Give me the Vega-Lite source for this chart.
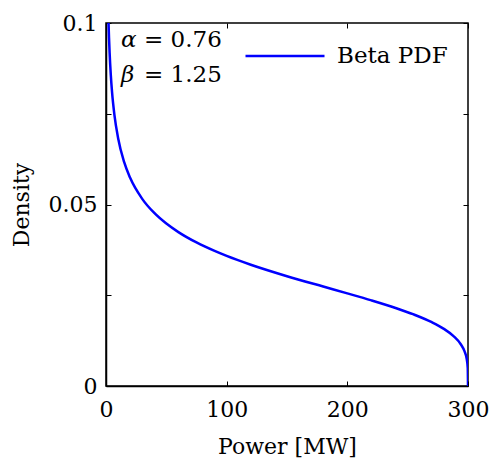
{
  "$schema": "https://vega.github.io/schema/vega-lite/v6.json",
  "autosize": {"type": "none"},
  "padding": {"left": 106, "top": 23, "right": 22, "bottom": 75},
  "width": 362,
  "height": 363,
  "background": "white",
  "config": {
    "view": {"stroke": "black", "strokeWidth": 1.5},
    "font": "DejaVu Serif",
    "text": {"font": "DejaVu Serif"},
    "axis": {
      "grid": false,
      "domainColor": "black",
      "domainWidth": 1.5,
      "tickColor": "black",
      "tickWidth": 1,
      "tickSize": -5,
      "labelFlush": false,
      "labelColor": "black",
      "titleColor": "black",
      "labelFont": "DejaVu Serif",
      "titleFont": "DejaVu Serif",
      "labelFontSize": 22,
      "titleFontSize": 22,
      "titleFontWeight": "normal"
    },
    "legend": {
      "labelFont": "DejaVu Serif",
      "labelFontSize": 23,
      "labelColor": "black"
    }
  },
  "datasets": {
    "pdf": [
      {"power": 1.5, "density": 0.10851},
      {"power": 2, "density": 0.10124},
      {"power": 2.5, "density": 0.09591},
      {"power": 3, "density": 0.09177},
      {"power": 4, "density": 0.08558},
      {"power": 5, "density": 0.08104},
      {"power": 7, "density": 0.07463},
      {"power": 10, "density": 0.06833},
      {"power": 15, "density": 0.06173},
      {"power": 20, "density": 0.05735},
      {"power": 30, "density": 0.05156},
      {"power": 40, "density": 0.04767},
      {"power": 50, "density": 0.04475},
      {"power": 60, "density": 0.0424},
      {"power": 75, "density": 0.03954},
      {"power": 90, "density": 0.0372},
      {"power": 100, "density": 0.03583},
      {"power": 120, "density": 0.03341},
      {"power": 150, "density": 0.03025},
      {"power": 180, "density": 0.02739},
      {"power": 200, "density": 0.02551},
      {"power": 220, "density": 0.02358},
      {"power": 240, "density": 0.02149},
      {"power": 255, "density": 0.01971},
      {"power": 270, "density": 0.01757},
      {"power": 280, "density": 0.01574},
      {"power": 288, "density": 0.01376},
      {"power": 294, "density": 0.01151},
      {"power": 297, "density": 0.00966},
      {"power": 299, "density": 0.00733},
      {"power": 299.8, "density": 0.0049},
      {"power": 300, "density": 0}
    ],
    "greek": [
      {"power": 12.4, "density": 0.0934, "text": "α"},
      {"power": 12.4, "density": 0.0837, "text": "β"}
    ],
    "vals": [
      {"power": 31.5, "density": 0.0934, "text": "= 0.76"},
      {"power": 31.5, "density": 0.0837, "text": "= 1.25"}
    ]
  },
  "layer": [
    {
      "data": {"name": "pdf"},
      "mark": {"type": "line", "strokeWidth": 2.5, "clip": true, "interpolate": "monotone"},
      "encoding": {
        "x": {
          "field": "power", "type": "quantitative",
          "scale": {"domain": [0, 300], "nice": false},
          "axis": {"values": [0, 100, 200, 300], "title": "Power [MW]", "labelPadding": 18, "titlePadding": 16}
        },
        "y": {
          "field": "density", "type": "quantitative",
          "scale": {"domain": [0, 0.1], "nice": false},
          "axis": {
            "values": [0, 0.025, 0.05, 0.075, 0.1],
            "labelExpr": "datum.value == 0 ? '0' : (abs(datum.value - 0.05) < 1e-9 ? '0.05' : (abs(datum.value - 0.1) < 1e-9 ? '0.1' : ''))",
            "title": "Density",
            "labelPadding": 14,
            "titlePadding": 15
          }
        },
        "color": {
          "datum": "Beta PDF",
          "type": "nominal",
          "scale": {"range": ["#0000ff"]},
          "legend": {
            "title": null,
            "orient": "none",
            "legendX": 138,
            "legendY": -8,
            "padding": 0,
            "symbolType": "stroke",
            "symbolSize": 6241,
            "symbolStrokeWidth": 2.5,
            "labelOffset": 11
          }
        }
      }
    },
    {
      "data": {"name": "pdf"},
      "mark": {"type": "line", "strokeOpacity": 0},
      "encoding": {
        "x": {
          "field": "power", "type": "quantitative",
          "scale": {"domain": [0, 300], "nice": false},
          "axis": {"orient": "top", "values": [0, 100, 200, 300], "labels": false, "title": null, "domain": false}
        },
        "y": {
          "field": "density", "type": "quantitative",
          "scale": {"domain": [0, 0.1], "nice": false},
          "axis": {"orient": "right", "values": [0, 0.025, 0.05, 0.075, 0.1], "labels": false, "title": null, "domain": false}
        }
      }
    },
    {
      "data": {"name": "greek"},
      "mark": {"type": "text", "align": "left", "baseline": "alphabetic", "fontSize": 23, "fontStyle": "italic", "font": "DejaVu Serif"},
      "encoding": {
        "x": {"field": "power", "type": "quantitative", "axis": null},
        "y": {"field": "density", "type": "quantitative", "axis": null},
        "text": {"field": "text"}
      }
    },
    {
      "data": {"name": "vals"},
      "mark": {"type": "text", "align": "left", "baseline": "alphabetic", "fontSize": 23, "font": "DejaVu Serif"},
      "encoding": {
        "x": {"field": "power", "type": "quantitative", "axis": null},
        "y": {"field": "density", "type": "quantitative", "axis": null},
        "text": {"field": "text"}
      }
    }
  ],
  "resolve": {"axis": {"x": "independent", "y": "independent"}}
}
